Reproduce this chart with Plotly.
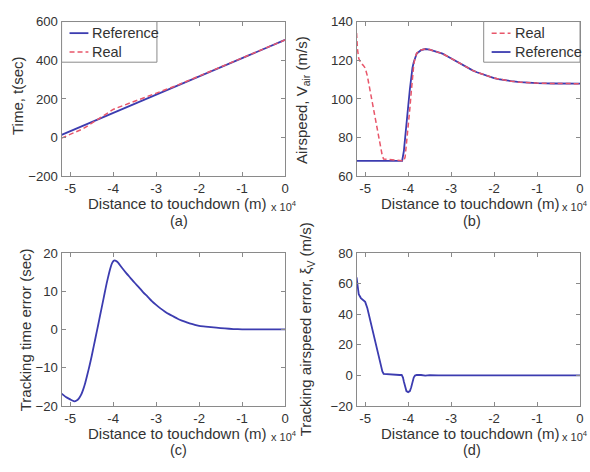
import plotly.graph_objects as go

# ---------------- data (distance to touchdown in metres) ----------------
# (a) time
time_ref_x = [-52000, -48000, -44000, -40000, -36000, -32000, -28000, -24000,
              -20000, -16000, -12000, -8000, -4000, 0]
time_ref_y = [15, 53, 91, 128, 166, 204, 241, 279, 317, 354, 392, 430, 467, 505]

time_real_x = [-52000, -50000, -49000, -48000, -47000, -46000, -45000, -44000,
               -43000, -42000, -41000, -40000, -39000, -38000, -37000, -36000,
               -34000, -32000, -30000, -28000, -26000, -24000, -20000, -16000,
               -12000, -8000, -4000, 0]
time_real_y = [-2, 16, 24, 35, 46, 60, 74, 89, 104, 119, 134, 146, 155, 163,
               172, 180, 196, 213, 228, 246, 263, 281, 318, 354, 392, 430, 467, 505]

# (b) airspeed
vref_x = [-52000, -41400, -41000, -40700, -40400, -40000, -39600, -39300, -39000,
          -38700, -38400, -38000, -37000, -36000, -35000, -34000, -33000, -32000,
          -31000, -30000, -29000, -28000, -27000, -26000, -25000, -24000, -23000,
          -22000, -21000, -20000, -19000, -18000, -17000, -16000, -14000, -12000,
          -10000, -6000, 0]
vref_y = [68, 68, 73, 79, 87, 96, 105, 111, 116, 119, 121.5, 123.5, 125.2, 125.8,
          125.5, 124.9, 124.2, 123.4, 122.2, 120.9, 119.6, 118.3, 117.0, 115.8,
          114.8, 113.8, 113.0, 112.1, 111.4, 110.8, 110.3, 109.9, 109.5, 109.2,
          108.7, 108.4, 108.2, 108.0, 107.9]

vreal_x = [-52000, -51800, -51500, -51000, -50500, -50000, -49500, -49000, -48500,
           -48000, -47500, -47000, -46500, -46000, -45700, -45000, -44000, -43000,
           -42000, -41300, -41000, -40700, -40400, -40000, -39600, -39300, -39000,
           -38700, -38400, -38000, -37000, -36000, -35000, -34000, -33000, -32000,
           -31000, -30000, -29000, -28000, -27000, -26000, -25000, -24000, -23000,
           -22000, -21000, -20000, -19000, -18000, -17000, -16000, -14000, -12000,
           -10000, -6000, 0]
vreal_y = [134, 126, 121, 118.5, 117.5, 116, 112, 106, 100, 94, 88, 82, 76, 70.5,
           69, 68.8, 68.5, 68.3, 68.2, 68, 68, 70, 76, 84, 95, 103, 111.5, 117.5,
           121.3, 123.7, 125.3, 125.8, 125.5, 124.9, 124.2, 123.4, 122.2, 120.9,
           119.6, 118.3, 117.0, 115.8, 114.8, 113.8, 113.0, 112.1, 111.4, 110.8,
           110.3, 109.9, 109.5, 109.2, 108.7, 108.4, 108.2, 108.0, 107.9]

# (c) tracking time error
terr_x = [-52000, -51000, -50000, -49500, -49000, -48500, -48000, -47500, -47000,
          -46500, -46000, -45500, -45000, -44500, -44000, -43500, -43000, -42500,
          -42000, -41500, -41000, -40700, -40400, -40100, -39800, -39500, -39200,
          -38800, -38000, -37000, -36000, -35000, -34000, -33000, -32000, -31000,
          -30000, -29000, -28000, -27000, -26000, -25000, -24000, -23000, -22000,
          -21000, -20000, -18500, -16000, -14000, -12000, -10000, -5000, 0]
terr_y = [-16.8, -17.7, -18.3, -18.6, -18.8, -18.6, -18.1, -17.2, -15.8, -14.0,
          -11.8, -9.5, -7.0, -4.3, -1.6, 1.1, 3.9, 6.6, 9.4, 12.1, 14.5, 15.8,
          16.9, 17.6, 18.0, 18.0, 17.8, 17.4, 16.2, 14.8, 13.5, 12.2, 11.0, 9.7,
          8.6, 7.4, 6.4, 5.5, 4.7, 4.0, 3.4, 2.8, 2.3, 1.9, 1.5, 1.2, 0.9, 0.75,
          0.45, 0.25, 0.1, 0.03, 0.0, 0.0]

# (d) tracking airspeed error
verr_x = [-52000, -51800, -51500, -51000, -50500, -50000, -49500, -49000, -48500,
          -48000, -47500, -47000, -46500, -46000, -45700, -45000, -44000, -43000,
          -42000, -41500, -41200, -41000, -40700, -40400, -40000, -39600, -39300,
          -39000, -38700, -38400, -38000, -37000, -36000, -35000, -34000, -33000,
          -30000, 0]
verr_y = [64, 58, 53, 50.5, 49.5, 48, 44, 38, 32, 26, 20, 14, 8, 2.5, 1, 0.8,
          0.5, 0.3, 0.2, 0.3, -1.5, -4, -8, -10.3, -11, -10.3, -8, -4.5, -1.5,
          -0.2, 0.2, 0.2, -0.2, 0.1, -0.1, 0, 0, 0]

x_ticks = [-50000, -40000, -30000, -20000, -10000, 0]
x_ticktext = ["-5", "-4", "-3", "-2", "-1", "0"]
ya_ticks = [-200, 0, 200, 400, 600]
yb_ticks = [60, 80, 100, 120, 140]
yc_ticks = [-20, -10, 0, 10, 20]
yd_ticks = [-20, 0, 20, 40, 60, 80]

legend_a = ["Reference", "Real"]
legend_b = ["Real", "Reference"]

# ---------------- style ----------------
W, H = 590, 472
BLUE = "#3c3cb0"
RED = "#e8566a"
AX = "#8a8a8a"
TXT = "#333333"
FONT = "Liberation Sans, Arial, sans-serif"
TICKF = 13.2
TITF = 15
DASH = "5px,3px"


def px(x):
    return x / W


def py(y):
    return 1 - y / H


fig = go.Figure()

# (a)
fig.add_trace(go.Scatter(x=time_ref_x, y=time_ref_y, mode="lines", name="Reference",
                         line=dict(color=BLUE, width=1.8), xaxis="x", yaxis="y"))
fig.add_trace(go.Scatter(x=time_real_x, y=time_real_y, mode="lines", name="Real",
                         line=dict(color=RED, width=1.5, dash=DASH),
                         xaxis="x", yaxis="y"))
# (b)
fig.add_trace(go.Scatter(x=vref_x, y=vref_y, mode="lines", name="Reference",
                         line=dict(color=BLUE, width=1.8), xaxis="x2", yaxis="y2"))
fig.add_trace(go.Scatter(x=vreal_x, y=vreal_y, mode="lines", name="Real",
                         line=dict(color=RED, width=1.5, dash=DASH),
                         xaxis="x2", yaxis="y2"))
# (c)
fig.add_trace(go.Scatter(x=terr_x, y=terr_y, mode="lines",
                         line=dict(color=BLUE, width=1.8, shape="spline", smoothing=0.5),
                         xaxis="x3", yaxis="y3"))
# (d)
fig.add_trace(go.Scatter(x=verr_x, y=verr_y, mode="lines",
                         line=dict(color=BLUE, width=1.8),
                         xaxis="x4", yaxis="y4"))

col1 = [px(62), px(287)]
col2 = [px(359), px(584)]
row1 = [py(175), py(15)]
row2 = [py(412), py(254)]


def xax(domain, anchor):
    return dict(domain=domain, anchor=anchor, range=[-52000, 0], tickvals=x_ticks,
                ticktext=x_ticktext, showgrid=False, zeroline=False, showline=True,
                linecolor=AX, linewidth=1, mirror="ticks", ticks="inside", ticklen=4,
                tickcolor=AX, tickfont=dict(size=TICKF, color=TXT, family=FONT))


def yax(domain, anchor, rng, tv):
    return dict(domain=domain, anchor=anchor, range=rng, tickvals=tv, showgrid=False,
                zeroline=False, showline=True, linecolor=AX, linewidth=1, mirror="ticks",
                ticks="inside", ticklen=4, tickcolor=AX,
                tickfont=dict(size=TICKF, color=TXT, family=FONT))


fig.update_layout(
    width=W, height=H, margin=dict(l=0, r=0, t=0, b=0),
    paper_bgcolor="white", plot_bgcolor="white", showlegend=False,
    font=dict(family=FONT, color=TXT),
    xaxis=xax(col1, "y"), yaxis=yax(row1, "x", [-200, 600], ya_ticks),
    xaxis2=xax(col2, "y2"), yaxis2=yax(row1, "x2", [60, 140], yb_ticks),
    xaxis3=xax(col1, "y3"), yaxis3=yax(row2, "x3", [-20, 20], yc_ticks),
    xaxis4=xax(col2, "y4"), yaxis4=yax(row2, "x4", [-20, 80], yd_ticks),
)

ann = []
shapes = []


def text(x, y, s, size=TITF, angle=0, xanchor="center"):
    ann.append(dict(x=px(x), y=py(y), xref="paper", yref="paper", text=s,
                    showarrow=False, textangle=angle, xanchor=xanchor, yanchor="middle",
                    font=dict(size=size, color=TXT, family=FONT)))


# legend boxes (drawn as paper-space key)
def legend_box(x0, x1, y0, y1, labels):
    shapes.append(dict(type="rect", xref="paper", yref="paper", x0=px(x0), x1=px(x1),
                       y0=py(y1), y1=py(y0), line=dict(color=AX, width=1),
                       fillcolor="white", layer="above"))
    for i, lab in enumerate(labels):
        yy = y0 + 12 + i * 19.5
        is_ref = lab == "Reference"
        shapes.append(dict(type="line", xref="paper", yref="paper",
                           x0=px(x0 + 8), x1=px(x0 + 27), y0=py(yy), y1=py(yy),
                           line=dict(color=BLUE if is_ref else RED,
                                     width=1.8 if is_ref else 1.5,
                                     dash="solid" if is_ref else DASH),
                           layer="above"))
        text(x0 + 29, yy, lab, size=14.5, xanchor="left")


legend_box(62, 158, 15, 57, legend_a)
legend_box(487, 584, 15, 57, legend_b)

# x titles, multipliers and panel letters
for cx, rx, ty, letter in [(178, 271, 203, "(a)"), (473, 564, 203, "(b)"),
                           (178, 271, 440, "(c)"), (473, 564, 440, "(d)")]:
    text(cx, ty, "Distance to touchdown (m)")
    text(rx, ty + 3, "x 10<sup>4</sup>", size=11, xanchor="left")
    text(cx + 2, ty + 18, letter, size=14.5)

# y titles
text(17, 91, "Time, t(sec)", angle=-90)
text(305, 96, "Airspeed, V<sub>air</sub> (m/s)", angle=-90)
text(26, 333, "Tracking time error (sec)", angle=-90)
text(309, 333, "Tracking airspeed error, \u03be<sub>V</sub> (m/s)", angle=-90)

fig.update_layout(annotations=ann, shapes=shapes)
fig.write_html("out.html", config={"displayModeBar": False},
               post_script="document.body.style.margin='0px';")
